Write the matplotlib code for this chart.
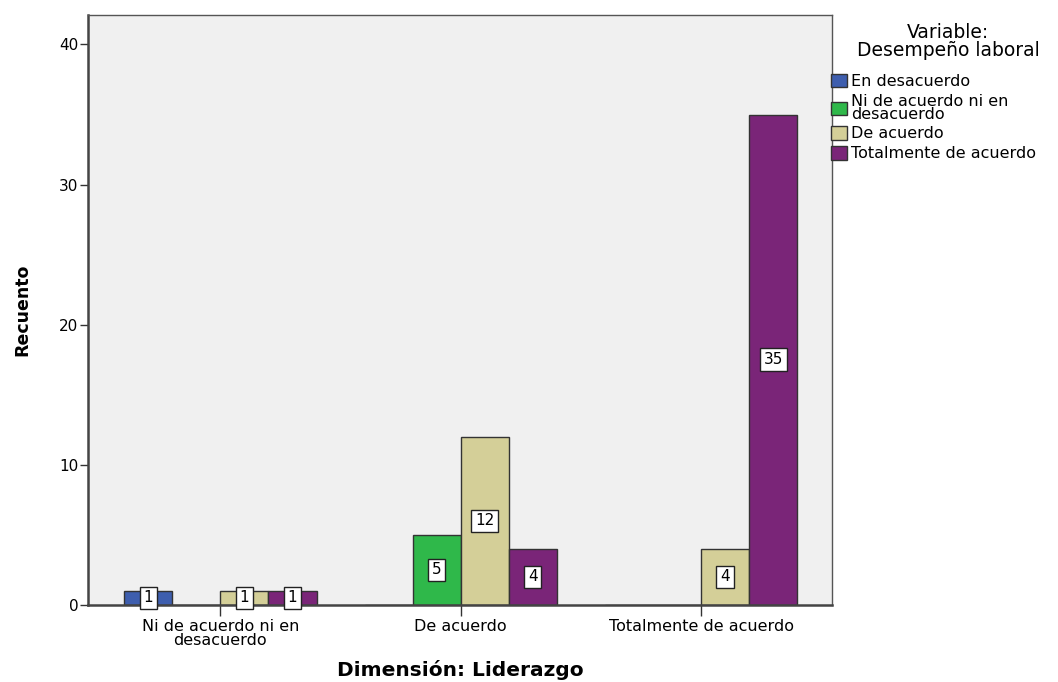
import matplotlib
matplotlib.use('Agg')
import matplotlib.pyplot as plt
import numpy as np

plt.rcParams['font.family'] = ['DejaVu Sans']

categories = ['Ni de acuerdo ni en\ndesacuerdo', 'De acuerdo', 'Totalmente de acuerdo']
series = ['En desacuerdo', 'Ni de acuerdo ni en\ndesacuerdo', 'De acuerdo', 'Totalmente de acuerdo']
colors = ['#3E5EAE', '#2FB84A', '#D4CF98', '#7A2578']

en_desacuerdo = [1, 0, 0]
ni_de_acuerdo = [0, 5, 0]
de_acuerdo = [1, 12, 4]
totalmente = [1, 4, 35]
values = [en_desacuerdo, ni_de_acuerdo, de_acuerdo, totalmente]

W, H = 1058, 682
fig = plt.figure(figsize=(W / 100, H / 100), dpi=100)
ax = fig.add_axes([88 / W, 77 / H, 744 / W, 590 / H])
ax.set_facecolor('#F0F0F0')

x = np.arange(len(categories))
w = 0.2
offsets = [-1.5 * w, -0.5 * w, 0.5 * w, 1.5 * w]

for s, vals in enumerate(values):
    bars = ax.bar(x + offsets[s], vals, w, color=colors[s], edgecolor='#333333',
                  linewidth=1.0, label=series[s], zorder=2)
    for b, v in zip(bars, vals):
        if v > 0:
            ax.text(b.get_x() + b.get_width() / 2, v / 2, str(v), ha='center', va='center',
                    fontsize=11, zorder=3,
                    bbox=dict(boxstyle='square,pad=0.25', facecolor='white', edgecolor='#222222', linewidth=1))

ax.set_xlim(-0.551, 2.545)
ax.set_ylim(0, 42.1)
ax.set_yticks([0, 10, 20, 30, 40])
ax.set_xticks(x)
ax.set_xticklabels(categories, fontsize=11.5, linespacing=0.9)
ax.tick_params(axis='y', labelsize=11, length=6, width=1, color='#333333', pad=1)
ax.tick_params(axis='x', length=8, width=1, color='#333333', pad=2)

for side in ['left', 'bottom']:
    ax.spines[side].set_linewidth(1.8)
    ax.spines[side].set_color('#444444')
for side in ['top', 'right']:
    ax.spines[side].set_linewidth(1.0)
    ax.spines[side].set_color('#555555')

ax.set_ylabel('Recuento', fontsize=12.5, fontweight='bold')
ax.yaxis.set_label_coords((31 - 88) / 744, 0.5)
fig.text(460 / W, 1 - 670 / H, 'Dimensión: Liderazgo', fontsize=14.5, fontweight='bold',
         ha='center', va='center')

fig.text(948 / W, 1 - 33 / H, 'Variable:', fontsize=13.5, ha='center', va='center')
fig.text(948 / W, 1 - 51 / H, 'Desempeño laboral', fontsize=13.5, ha='center', va='center')

leg = fig.legend(loc='upper left', bbox_to_anchor=(831 / W, 1 - 74 / H), frameon=False,
                 fontsize=11.5, handlelength=1.0, handleheight=0.9, handletextpad=0.25,
                 labelspacing=0.3, borderpad=0.0, borderaxespad=0)
for t in leg.get_texts():
    t.set_linespacing(0.8)

fig.savefig('out.png', dpi=100)
